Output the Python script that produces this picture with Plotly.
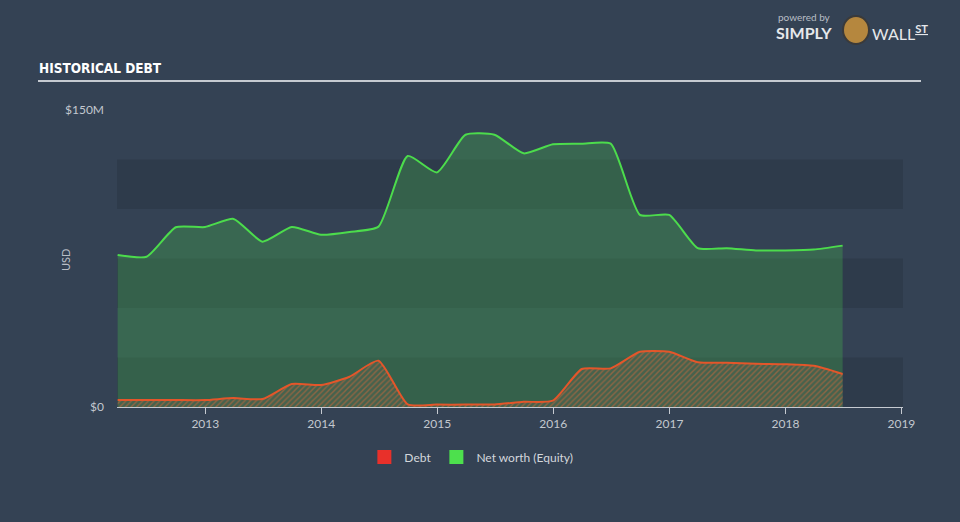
import plotly.graph_objects as go

# ---- data (quarter ends) ----
dates = [
    "2012-03-31", "2012-06-30", "2012-09-30", "2012-12-31",
    "2013-03-31", "2013-06-30", "2013-09-30", "2013-12-31",
    "2014-03-31", "2014-06-30", "2014-09-30", "2014-12-31",
    "2015-03-31", "2015-06-30", "2015-09-30", "2015-12-31",
    "2016-03-31", "2016-06-30", "2016-09-30", "2016-12-31",
    "2017-03-31", "2017-06-30", "2017-09-30", "2017-12-31",
    "2018-03-31", "2018-06-30",
]
equity_musd = [
    76.8, 75.9, 90.8, 90.9,
    95.0, 83.5, 90.9, 87.0,
    88.4, 91.1, 126.8, 118.5,
    137.5, 137.5, 128.1, 132.7,
    133.0, 133.0, 97.0, 97.0,
    80.2, 80.2, 79.1, 79.1,
    79.5, 81.5,
]
debt_musd = [
    3.5, 3.5, 3.5, 3.5,
    4.5, 4.0, 11.6, 11.1,
    15.3, 23.4, 1.3, 1.2,
    1.2, 1.3, 2.6, 3.2,
    19.2, 19.5, 27.9, 27.9,
    22.6, 22.3, 21.8, 21.6,
    20.8, 16.7,
]
y_tick_vals = [0, 150]
y_tick_text = ["$0", "$150M"]
band_edges = [0, 25, 50, 75, 100, 125]
x_tick_vals = ["2013-01-01", "2014-01-01", "2015-01-01", "2016-01-01",
               "2017-01-01", "2018-01-01", "2019-01-01"]
x_tick_text = ["2013", "2014", "2015", "2016", "2017", "2018", "2019"]

BG = "#344254"
DARK_BAND = "#2e3b4b"
GREEN = "#4cdc4c"
ORANGE = "#e4562a"
FONT = "Lato"

fig = go.Figure()

fig.add_trace(go.Scatter(
    x=dates, y=equity_musd, mode="lines", name="Net worth (Equity)",
    line=dict(color=GREEN, width=2, shape="spline", smoothing=0.55),
    fill="tozeroy", fillcolor="rgba(76,220,76,0.24)", showlegend=False,
    hoverinfo="skip",
))
fig.add_trace(go.Scatter(
    x=dates, y=debt_musd, mode="lines", name="Debt",
    line=dict(color=ORANGE, width=2, shape="spline", smoothing=0.55),
    fill="tozeroy", fillcolor="rgba(0,0,0,0)",
    fillpattern=dict(shape="/", fgcolor="#d8683a", bgcolor="rgba(95,100,80,0.4)",
                     size=4, solidity=0.35),
    showlegend=False, hoverinfo="skip",
))

# legend-only entries with square swatches
fig.add_trace(go.Scatter(
    x=[None], y=[None], mode="markers", name="Debt",
    marker=dict(symbol="square", size=14, color="#e8302a"),
))
fig.add_trace(go.Scatter(
    x=[None], y=[None], mode="markers", name="Net worth (Equity)",
    marker=dict(symbol="square", size=14, color="#4de04d"),
))

shapes = []
for i in range(0, len(band_edges), 2):
    shapes.append(dict(type="rect", xref="paper", yref="y", x0=0, x1=1,
                       y0=band_edges[i], y1=band_edges[i] + 25,
                       fillcolor=DARK_BAND, line=dict(width=0), layer="below"))
# title underline
shapes.append(dict(type="line", xref="paper", yref="paper",
                   x0=(38 - 117) / 786, x1=(921 - 117) / 786,
                   y0=(407 - 81) / 297, y1=(407 - 81) / 297,
                   line=dict(color="#c5cad1", width=2)))
# logo badge
shapes.append(dict(type="circle", xref="paper", yref="paper",
                   x0=(843 - 117) / 786, x1=(869 - 117) / 786,
                   y0=(407 - 44) / 297, y1=(407 - 16) / 297,
                   fillcolor="#b5873e", line=dict(color="#3a3a3a", width=2)))

annotations = [
    dict(text="HISTORICAL DEBT", xref="paper", yref="paper",
         x=(37 - 117) / 786, y=(407 - 68) / 297, xanchor="left", yanchor="middle",
         showarrow=False,
         font=dict(family="DejaVu Sans Condensed", size=13.5, color="white", weight="bold")),
    dict(text="powered by", xref="paper", yref="paper",
         x=(776 - 117) / 786, y=(407 - 17) / 297, xanchor="left", yanchor="middle",
         showarrow=False, font=dict(family=FONT, size=10, color="#b8bec6")),
    dict(text="<b>SIMPLY</b>", xref="paper", yref="paper",
         x=(774 - 117) / 786, y=(407 - 32) / 297, xanchor="left", yanchor="middle",
         showarrow=False, font=dict(family=FONT, size=16, color="#e6e8eb")),
    dict(text="WALL<sup><u><b>ST</b></u></sup>", xref="paper", yref="paper",
         x=(870 - 117) / 786, y=(407 - 32) / 297, xanchor="left", yanchor="middle",
         showarrow=False, font=dict(family=FONT, size=16, color="#e6e8eb")),
    dict(text="USD", xref="paper", yref="paper",
         x=(65 - 117) / 786, y=(407 - 260) / 297, xanchor="center", yanchor="middle",
         textangle=-90, showarrow=False, font=dict(family=FONT, size=11, color="#b8bec6")),
]

fig.update_layout(
    width=960, height=522,
    margin=dict(l=117, r=57, t=110, b=115),
    paper_bgcolor=BG, plot_bgcolor=BG,
    font=dict(family=FONT, color="#c3c8cf", size=12),
    showlegend=True,
    legend=dict(orientation="h", xref="container", yref="container",
                x=0.491, y=1 - 457 / 522, xanchor="center", yanchor="middle",
                font=dict(family=FONT, size=12, color="#d3d7dc"),
                bgcolor="rgba(0,0,0,0)", itemwidth=30),
    shapes=shapes,
    annotations=annotations,
    xaxis=dict(
        type="date", range=["2012-03-29", "2019-01-06"],
        tickvals=x_tick_vals, ticktext=x_tick_text,
        showgrid=False, zeroline=False,
        showline=True, linecolor="#c5cad1", linewidth=1,
        ticks="outside", ticklen=6, tickcolor="#c5cad1",
        tickfont=dict(family=FONT, size=12, color="#c3c8cf"),
    ),
    yaxis=dict(
        range=[0, 150], tickvals=y_tick_vals, ticktext=y_tick_text,
        showgrid=False, zeroline=False, showline=False, ticks="",
        ticklabelstandoff=12,
        tickfont=dict(family=FONT, size=12, color="#c3c8cf"),
    ),
)

fig.write_html("out.html", config={"displayModeBar": False},
               post_script="document.body.style.margin='0';document.body.style.background='#344254';")
